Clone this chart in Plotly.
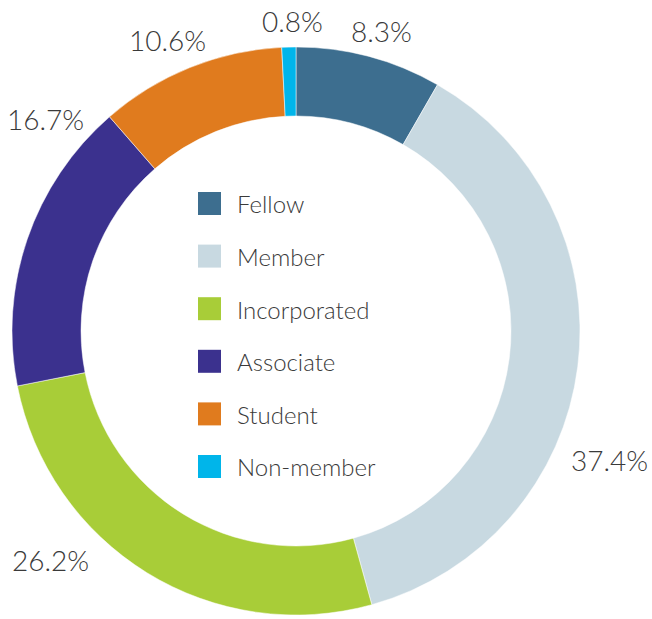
import plotly.graph_objects as go

categories = ["Fellow", "Member", "Incorporated", "Associate", "Student", "Non-member"]
shares = [8.3, 37.4, 26.2, 16.7, 10.6, 0.8]
colors = ["#3d6e8f", "#c8d9e1", "#a8cd38", "#3b318e", "#e07b1e", "#00b5ea"]

W, H = 652, 619
# label centres in page pixels (layout only)
label_pos = [(382, 31), (609, 460), (50, 560), (45, 119), (167, 40), (292, 21)]

TEXT_COLOR = "#3a3a3a"
FONT = "Lato"


def px_x(x):
    return x / W


def px_y(y):
    return 1 - y / H


fig = go.Figure()
fig.add_trace(go.Pie(
    labels=categories,
    values=shares,
    sort=False,
    direction="clockwise",
    rotation=0,
    hole=0.757,
    marker=dict(colors=colors, line=dict(color="white", width=0.5)),
    textinfo="none",
    hoverinfo="label+percent",
    showlegend=False,
    domain=dict(x=[px_x(12), px_x(580)], y=[px_y(615), px_y(47)]),
))

annotations = []
shapes = []
for i, (cat, val) in enumerate(zip(categories, shares)):
    lx, ly = label_pos[i]
    annotations.append(dict(
        x=px_x(lx), y=px_y(ly), xref="paper", yref="paper",
        text=f"{val:.1f}%", showarrow=False,
        xanchor="center", yanchor="middle",
        font=dict(family=FONT, size=28, color=TEXT_COLOR, weight=300),
    ))
    # legend inside the hole
    top = 192 + i * 52.6
    shapes.append(dict(
        type="rect", xref="paper", yref="paper",
        x0=px_x(198), x1=px_x(221), y0=px_y(top + 23), y1=px_y(top),
        fillcolor=colors[i], line=dict(width=0),
    ))
    annotations.append(dict(
        x=px_x(235), y=px_y(top + 12), xref="paper", yref="paper",
        text=cat, showarrow=False, xanchor="left", yanchor="middle",
        font=dict(family=FONT, size=24, color=TEXT_COLOR, weight=300),
    ))

fig.update_layout(
    width=W, height=H,
    margin=dict(l=0, r=0, t=0, b=0),
    paper_bgcolor="white", plot_bgcolor="white",
    annotations=annotations, shapes=shapes,
)

fig.write_html(
    "out.html",
    config={"displayModeBar": False},
    post_script="document.body.style.margin='0';document.body.style.overflow='hidden';",
)
